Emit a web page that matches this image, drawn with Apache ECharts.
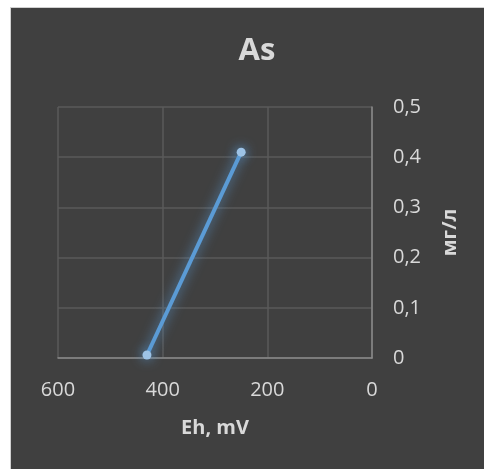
<!DOCTYPE html>
<html>
<head>
<meta charset="utf-8">
<script src="https://cdn.jsdelivr.net/npm/echarts@6/dist/echarts.min.js"></script>
<style>
  html, body { margin: 0; padding: 0; background: #ffffff; overflow: hidden; }
  #bg { position: absolute; left: 10px; top: 7px; width: 474px; height: 462px; box-sizing: border-box; background: #404040; border-left: 1px solid #d0d0d0; border-top: 1px solid #d0d0d0; }
  #chart { position: absolute; left: 0; top: 0; width: 484px; height: 469px; }
</style>
</head>
<body>
<div id="bg"></div>
<div id="chart"></div>
<script>
const titleText = 'As';
const xAxisName = 'Eh, mV';
const yAxisName = 'мг/л';
const ehValues = [430, 250];
const asValues = [0.006, 0.41];

const seriesData = ehValues.map((x, i) => [x, asValues[i]]);
const font = '"Open Sans", "Noto Sans", sans-serif';
const textColor = '#d9d9d9';

const chart = echarts.init(document.getElementById('chart'), null, { renderer: 'canvas' });
chart.setOption({
  backgroundColor: 'transparent',
  animation: false,
  title: {
    text: titleText,
    left: 252,
    textAlign: 'center',
    top: 31,
    textStyle: { color: textColor, fontSize: 31, fontWeight: 'bold', fontFamily: font }
  },
  grid: { left: 58, right: 112, top: 107, bottom: 111, containLabel: false },
  xAxis: {
    type: 'value',
    inverse: true,
    min: 0, max: 600, interval: 200,
    name: xAxisName,
    nameLocation: 'middle',
    nameGap: 60,
    nameTextStyle: { color: textColor, fontSize: 20, fontWeight: 'bold', fontFamily: font },
    axisLine: { show: true, lineStyle: { color: '#8a8a8a', width: 1.5 } },
    axisTick: { show: false },
    axisLabel: { color: textColor, fontSize: 20, fontFamily: font, margin: 22 },
    splitLine: { show: true, lineStyle: { color: '#5a5a5a', width: 1.5 } }
  },
  yAxis: {
    type: 'value',
    position: 'right',
    min: 0, max: 0.5, interval: 0.1,
    name: yAxisName,
    nameLocation: 'middle',
    nameRotate: 90,
    nameGap: 68,
    nameTextStyle: { color: textColor, fontSize: 20, fontWeight: 'bold', fontFamily: font },
    axisLine: { show: true, lineStyle: { color: '#8a8a8a', width: 1.5 } },
    axisTick: { show: false },
    axisLabel: {
      color: textColor, fontSize: 20, fontFamily: font, margin: 21,
      formatter: v => String(Math.round(v * 10) / 10).replace('.', ',')
    },
    splitLine: { show: true, lineStyle: { color: '#5a5a5a', width: 1.5 } }
  },
  series: [{
    type: 'line',
    data: seriesData,
    symbol: 'circle',
    symbolSize: 9,
    lineStyle: { color: '#5b9bd5', width: 4, shadowBlur: 12, shadowColor: 'rgba(91,155,213,0.9)' },
    itemStyle: { color: '#9dc3e6', borderWidth: 0, shadowBlur: 12, shadowColor: 'rgba(91,155,213,1)' }
  }]
});
</script>
</body>
</html>
